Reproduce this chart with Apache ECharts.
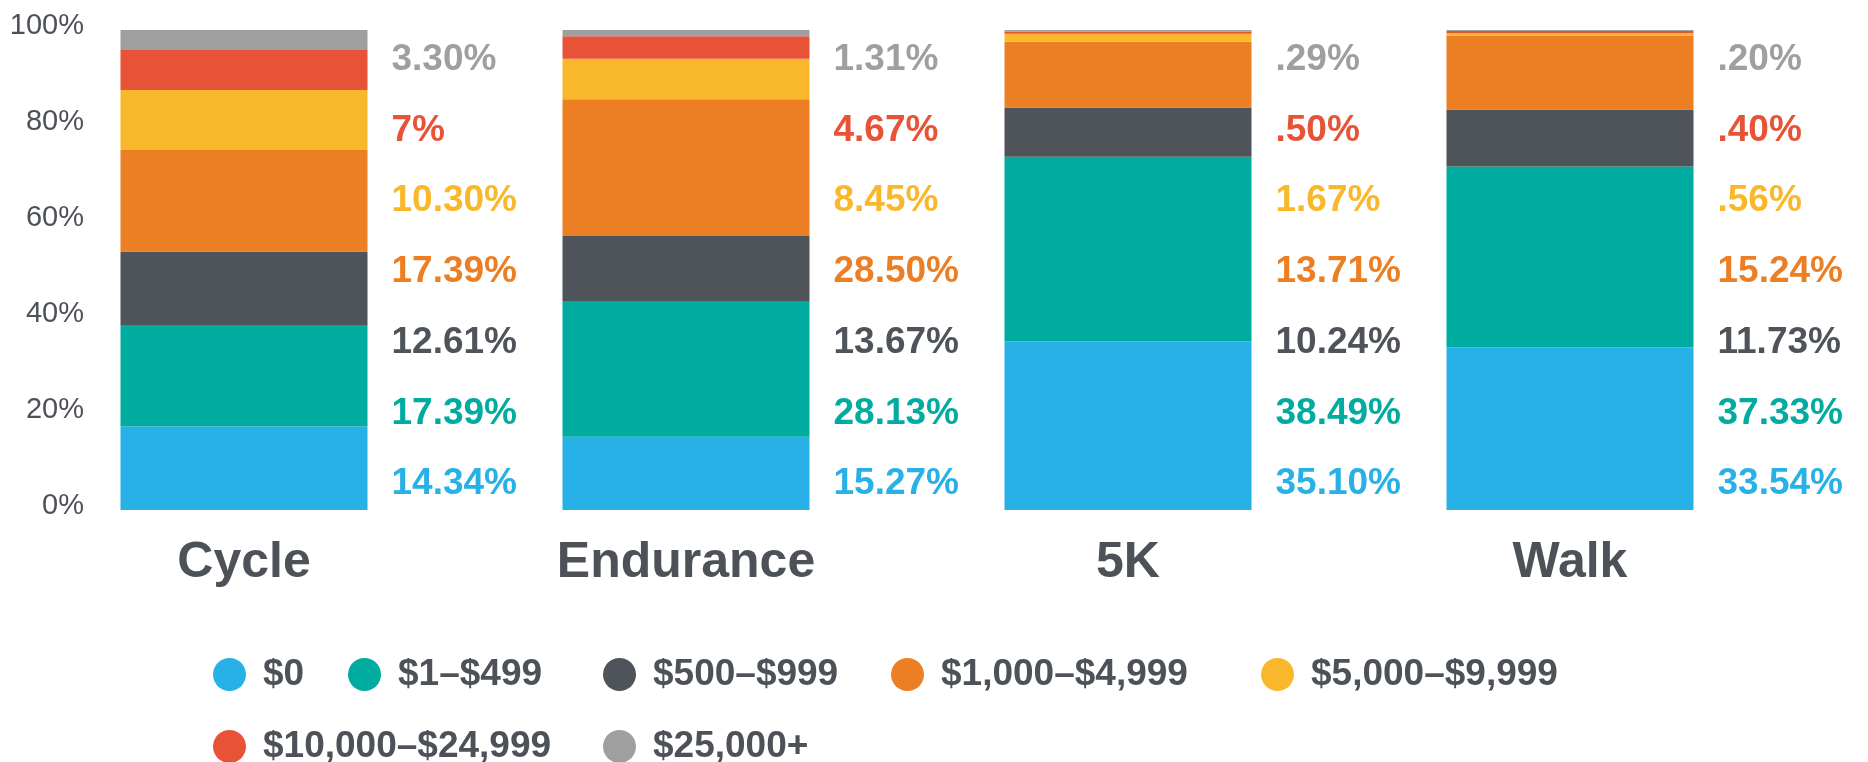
<!DOCTYPE html>
<html>
<head>
<meta charset="utf-8">
<title>Fundraising by event type</title>
<script src="https://cdn.jsdelivr.net/npm/echarts@6/dist/echarts.min.js"></script>
<style>
  html, body { margin: 0; padding: 0; background: #ffffff; }
  #chart { width: 1868px; height: 762px; }
</style>
</head>
<body>
<div id="chart"></div>
<script>
// Event types along the x axis
const categories = ['Cycle', 'Endurance', '5K', 'Walk'];

// Fundraising brackets (stack order, bottom to top)
const brackets = ['$0', '$1–$499', '$500–$999', '$1,000–$4,999', '$5,000–$9,999', '$10,000–$24,999', '$25,000+'];

// Percent of participants in each bracket, per event type
const raised0 = [14.34, 15.27, 35.10, 33.54];
const raised1to499 = [17.39, 28.13, 38.49, 37.33];
const raised500to999 = [12.61, 13.67, 10.24, 11.73];
const raised1000to4999 = [17.39, 28.50, 13.71, 15.24];
const raised5000to9999 = [10.30, 8.45, 1.67, 0.56];
const raised10000to24999 = [7, 4.67, 0.50, 0.40];
const raised25000plus = [3.30, 1.31, 0.29, 0.20];

// Y axis tick values (percent)
const yTicks = [0, 20, 40, 60, 80, 100];

const bracketValues = [raised0, raised1to499, raised500to999, raised1000to4999,
                       raised5000to9999, raised10000to24999, raised25000plus];
const colors = ['#27b1e6', '#00aba0', '#4f535a', '#ec7f23', '#f9b82c', '#e85236', '#9f9f9f'];

// Each column is drawn as a 100% stack: a bracket's share of the column total
const totals = categories.map((_, c) => bracketValues.reduce((s, arr) => s + arr[c], 0));

// Percent text as printed: "7%", "3.30%", ".29%"
function fmt(v) {
  let s = Number.isInteger(v) ? String(v) : v.toFixed(2);
  if (s.startsWith('0.')) s = s.slice(1);
  return s + '%';
}

const GRID_TOP = 30;
const GRID_BOTTOM = 252;
const CHART_H = 762;
const ROW_STEP = 70.7;
const plotBottom = CHART_H - GRID_BOTTOM;

const textColor = '#4d5158';
const font = "'Liberation Sans', Arial, Helvetica, sans-serif";

const series = brackets.map((name, i) => ({
  name: name,
  type: 'bar',
  stack: 'total',
  barWidth: 247,
  itemStyle: { color: colors[i] },
  emphasis: { disabled: true },
  data: bracketValues[i].map((v, c) => v / totals[c] * 100),
  label: {
    show: true,
    position: 'inside',
    fontFamily: font,
    fontSize: 37,
    fontWeight: 'bold',
    color: colors[i],
    formatter: p => fmt(bracketValues[p.seriesIndex][p.dataIndex])
  },
  // labels sit in a column to the right of each bar, one row per bracket
  labelLayout: p => ({
    x: p.rect.x + p.rect.width + 24,
    y: plotBottom - 26 - p.seriesIndex * ROW_STEP,
    align: 'left',
    verticalAlign: 'middle'
  })
}));

// Legend items placed in two rows
const legendSpots = [
  [213, 656], [348, 656], [603, 656], [891, 656], [1261, 656],
  [213, 728], [603, 728]
];
const legends = brackets.map((name, i) => ({
  data: [name],
  left: legendSpots[i][0],
  top: legendSpots[i][1],
  padding: 0,
  icon: 'circle',
  itemWidth: 33,
  itemHeight: 33,
  selectedMode: false,
  textStyle: {
    fontFamily: font,
    fontSize: 37,
    fontWeight: 'bold',
    color: textColor,
    padding: [0, 0, 0, 12]
  }
}));

const chart = echarts.init(document.getElementById('chart'), null, { renderer: 'canvas' });
chart.setOption({
  animation: false,
  backgroundColor: '#ffffff',
  legend: legends,
  grid: {
    left: 23,
    right: 77,
    top: GRID_TOP,
    bottom: GRID_BOTTOM,
    containLabel: false,
    outerBoundsMode: 'none'
  },
  xAxis: {
    type: 'category',
    data: categories,
    axisLine: { show: false },
    axisTick: { show: false },
    axisLabel: {
      margin: 28,
      fontFamily: font,
      fontSize: 50,
      lineHeight: 50,
      fontWeight: 'bold',
      color: textColor
    }
  },
  yAxis: {
    type: 'value',
    min: yTicks[0],
    max: yTicks[yTicks.length - 1],
    interval: yTicks[1] - yTicks[0],
    splitLine: { show: false },
    axisLine: { show: false },
    axisTick: { show: false },
    axisLabel: {
      margin: -61,
      fontFamily: font,
      fontSize: 29,
      color: textColor,
      verticalAlign: 'bottom',
      lineHeight: 8,
      formatter: '{value}%'
    }
  },
  series: series
});
</script>
</body>
</html>
